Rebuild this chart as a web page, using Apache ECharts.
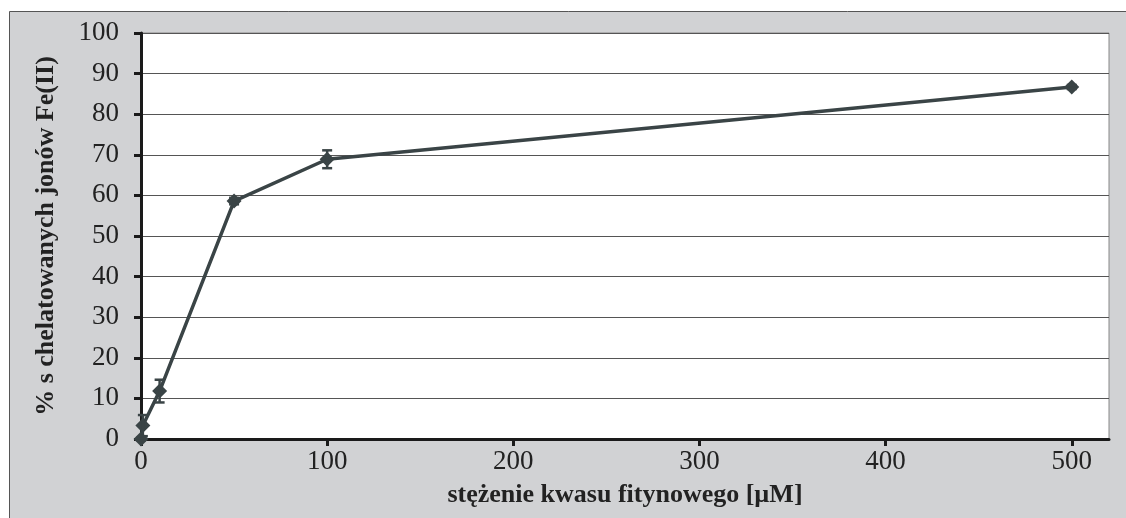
<!DOCTYPE html>
<html><head><meta charset="utf-8">
<script src="https://cdn.jsdelivr.net/npm/echarts@6/dist/echarts.min.js"></script>
<style>html,body{margin:0;padding:0;background:#fff}#c{width:1126px;height:518px}</style>
</head><body><div id="c"></div>
<script>
const xValues = [0, 1, 10, 50, 100, 500];
const yValues = [0, 3.3, 11.8, 58.6, 68.9, 86.7];
const yErrors = [0.3, 2.6, 2.8, 0.8, 2.2, 0.5];
const xTicks = [0, 100, 200, 300, 400, 500];
const yTicks = [0, 10, 20, 30, 40, 50, 60, 70, 80, 90, 100];

const points = xValues.map((x, i) => [x, yValues[i]]);
const errData = xValues.map((x, i) => [x, yValues[i] - yErrors[i], yValues[i] + yErrors[i]]);
const serif = '"Liberation Serif", "DejaVu Serif", serif';
const col = '#3a4446';

const chart = echarts.init(document.getElementById('c'));
chart.setOption({
  animation: false,
  graphic: [{
    type: 'rect', z: -10, silent: true,
    shape: {x: 9.5, y: 11.5, width: 1130, height: 520},
    style: {fill: '#d1d2d4', stroke: '#555', lineWidth: 1}
  }],
  grid: {left: 141, right: 17, top: 33, bottom: 79, show: true, backgroundColor: '#fff', borderColor: '#888', borderWidth: 1},
  xAxis: {
    type: 'value', min: 0, max: 520, interval: 100,
    name: 'stężenie kwasu fitynowego [µM]', nameLocation: 'middle', nameGap: 43,
    nameTextStyle: {fontFamily: serif, fontSize: 26, fontWeight: 'bold', color: '#222'},
    axisLine: {show: true, lineStyle: {color: '#1a1a1a', width: 3}},
    axisTick: {show: true, length: 7, lineStyle: {color: '#1a1a1a', width: 3}, customValues: xTicks},
    axisLabel: {fontFamily: serif, fontSize: 27, color: '#222', margin: 9, customValues: xTicks},
    splitLine: {show: false}
  },
  yAxis: {
    type: 'value', min: 0, max: 100, interval: 10,
    name: '% s chelatowanych jonów Fe(II)', nameLocation: 'middle', nameGap: 82,
    nameTextStyle: {fontFamily: serif, fontSize: 26, fontWeight: 'bold', color: '#222'},
    axisLine: {show: true, lineStyle: {color: '#1a1a1a', width: 3}},
    axisTick: {show: true, length: 7, lineStyle: {color: '#1a1a1a', width: 3}},
    axisLabel: {fontFamily: serif, fontSize: 27, color: '#222', margin: 22},
    splitLine: {show: true, lineStyle: {color: '#555', width: 1}}
  },
  series: [{
    type: 'line', data: points, symbol: 'diamond', symbolSize: 15,
    lineStyle: {color: col, width: 3.5}, itemStyle: {color: col}, z: 3
  }, {
    type: 'custom', data: errData, z: 4,
    renderItem: function (params, api) {
      const x = api.value(0);
      const lo = api.coord([x, api.value(1)]);
      const hi = api.coord([x, api.value(2)]);
      const w = 5;
      const st = {stroke: col, lineWidth: 2.5};
      return {type: 'group', children: [
        {type: 'line', shape: {x1: lo[0], y1: lo[1], x2: hi[0], y2: hi[1]}, style: st},
        {type: 'line', shape: {x1: lo[0]-w, y1: lo[1], x2: lo[0]+w, y2: lo[1]}, style: st},
        {type: 'line', shape: {x1: hi[0]-w, y1: hi[1], x2: hi[0]+w, y2: hi[1]}, style: st}
      ]};
    }
  }]
});
</script></body></html>
